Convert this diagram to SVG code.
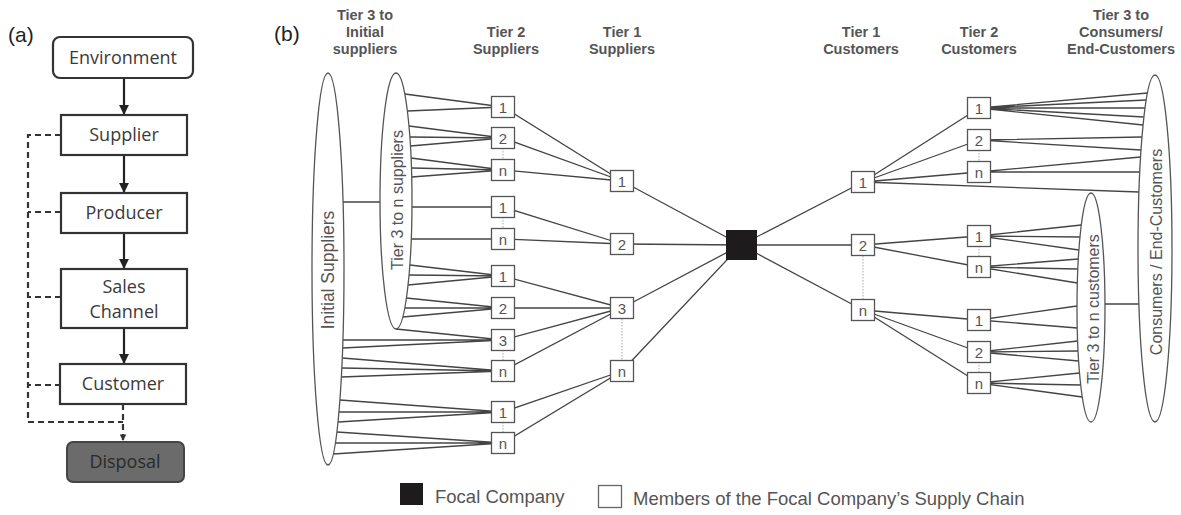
<svg xmlns="http://www.w3.org/2000/svg" width="1181" height="515" viewBox="0 0 1181 515">
<defs>
<marker id="arr" viewBox="0 0 10 10" refX="10" refY="5" markerWidth="4.5" markerHeight="4.5" orient="auto"><path d="M0,0 L10,5 L0,10 z" fill="#222"/></marker>
<marker id="arrs" viewBox="0 0 10 10" refX="10" refY="5" markerWidth="3" markerHeight="3" orient="auto"><path d="M0,0 L10,5 L0,10 z" fill="#333"/></marker>
<style>
.pa{fill:#fff;stroke:#333;stroke-width:2.2}
.ta{font-family:"Open Sans","Noto Sans",sans-serif;font-size:18px;fill:#3a3a3a;text-anchor:middle}
.lab{font-family:"Liberation Sans",Arial,sans-serif;font-size:21px;fill:#222}
.hd{font-family:"Liberation Sans",Arial,sans-serif;font-size:14.5px;font-weight:bold;fill:#555;text-anchor:middle}
.bx{fill:#fff;stroke:#555;stroke-width:1.3}
.num{font-family:"Liberation Sans",Arial,sans-serif;font-size:15px;fill:#555;text-anchor:middle}
.ov{fill:#fff;stroke:#555;stroke-width:1.3}
.rot{font-family:"Liberation Sans",Arial,sans-serif;font-size:16px;fill:#555;text-anchor:middle}
.e{stroke:#444;stroke-width:1.3;fill:none}
.dot{stroke:#aaa;stroke-width:1;stroke-dasharray:1.5 1.5;fill:none}
.sol{stroke:#222;stroke-width:2.2;fill:none}
.dsh{stroke:#333;stroke-width:2.2;stroke-dasharray:6 4;fill:none}
.lg{font-family:"Liberation Sans",Arial,sans-serif;font-size:18.5px;fill:#555}
</style>
</defs>

<!-- Panel (a) -->
<text class="lab" x="8" y="42">(a)</text>
<g id="a-connectors">
<line class="sol" x1="124" y1="78" x2="124" y2="115" marker-end="url(#arr)"/>
<line class="sol" x1="124" y1="155" x2="124" y2="193" marker-end="url(#arr)"/>
<line class="sol" x1="124" y1="233" x2="124" y2="269" marker-end="url(#arr)"/>
<line class="sol" x1="124" y1="328" x2="124" y2="364" marker-end="url(#arr)"/>
<path class="dsh" d="M61,135 H28 V422 H123"/>
<path class="dsh" d="M61,212 H28"/>
<path class="dsh" d="M61,297 H28"/>
<path class="dsh" d="M61,385 H28"/>
<path class="dsh" d="M123,404 V441" marker-end="url(#arrs)"/>
</g>
<g id="a-environment"><rect x="53" y="37" width="140" height="41" rx="7" class="pa"/><text class="ta" x="123" y="64">Environment</text></g>
<g id="a-supplier"><rect x="61" y="115" width="126" height="40" class="pa"/><text class="ta" x="124" y="141">Supplier</text></g>
<g id="a-producer"><rect x="61" y="193" width="126" height="40" class="pa"/><text class="ta" x="124" y="219">Producer</text></g>
<g id="a-sales"><rect x="61" y="269" width="126" height="59" class="pa"/><text class="ta" x="124" y="293">Sales</text><text class="ta" x="124" y="318">Channel</text></g>
<g id="a-customer"><rect x="60" y="364" width="126" height="40" class="pa"/><text class="ta" x="123" y="390">Customer</text></g>
<g id="a-disposal"><rect x="67" y="442" width="117" height="40" rx="6" fill="#6b6b6b" stroke="#444" stroke-width="2"/><text class="ta" x="125" y="468" style="fill:#2a2a2a">Disposal</text></g>

<!-- Panel (b) -->
<text class="lab" x="274" y="41">(b)</text>
<g id="headers">
<text class="hd" x="365" y="20">Tier 3 to</text><text class="hd" x="365" y="37">Initial</text><text class="hd" x="365" y="54">suppliers</text>
<text class="hd" x="506" y="37">Tier 2</text><text class="hd" x="506" y="54">Suppliers</text>
<text class="hd" x="622" y="37">Tier 1</text><text class="hd" x="622" y="54">Suppliers</text>
<text class="hd" x="861" y="37">Tier 1</text><text class="hd" x="861" y="54">Customers</text>
<text class="hd" x="979" y="37">Tier 2</text><text class="hd" x="979" y="54">Customers</text>
<text class="hd" x="1121" y="20">Tier 3 to</text><text class="hd" x="1121" y="37">Consumers/</text><text class="hd" x="1121" y="54">End-Customers</text>
</g>

<g id="connectors">
<line class="e" x1="343" y1="202" x2="381" y2="202"/>
<line class="e" x1="1104" y1="304" x2="1139" y2="304"/>
<path class="e" d="M404.8,94 L503,107 M407.4,111 L503,107
M409,126 L503,138 M409.9,137 L503,138 M410.4,146 L503,138
M411,158 L503,170 M411.5,168 L503,170 M411.7,177 L503,170
M412,207 L503,207 M411.3,239 L503,239
M409.9,265 L503,276 M409,275 L503,276 M408,285 L503,276
M406.4,298 L503,308 M404.8,308 L503,308 M402.8,317 L503,308
M396,329 L503,340 M342.9,340 L503,340 M342.6,348 L503,340
M342.3,358 L503,371 M341.8,368 L503,371 M341.3,377 L503,371
M339.9,400 L503,412 M338.9,412 L503,412 M338,422 L503,412
M336.9,432 L503,443 M335.4,443 L503,443 M333.3,454 L503,443"/>
<path class="e" d="M503,107 L622,181 M503,138 L622,181 M503,170 L622,181
M503,207 L622,244 M503,239 L622,244
M503,276 L622,308 M503,308 L622,308 M503,340 L622,308 M503,371 L622,308
M503,412 L622,371 M503,443 L622,371"/>
<path class="e" d="M622,181 L741,245 M622,244 L741,245 M622,308 L741,245 M622,371 L741,245"/>
<path class="e" d="M741,245 L863,182 M741,245 L863,245 M741,245 L863,310"/>
<path class="e" d="M863,182 L979,108 M863,182 L979,140 M863,182 L979,172 M863,182 L1139,192
M863,245 L979,236 M863,245 L979,267
M863,310 L979,320 M863,310 L979,352 M863,310 L979,383"/>
<path class="e" d="M979,108 L1147.5,93 M979,108 L1146.2,100 M979,108 L1145,108 M979,108 L1143.9,117 M979,108 L1143.1,125
M979,140 L1142,137 M979,140 L1141,150
M979,172 L1140.5,157 M979,172 L1139.7,172
M979,236 L1081.3,225 M979,236 L1080,237 M979,236 L1078.9,250
M979,267 L1078.3,259 M979,267 L1077.8,269 M979,267 L1077.3,283
M979,320 L1077,306 M979,320 L1077.2,328
M979,352 L1077.6,341 M979,352 L1078,351 M979,352 L1078.6,361
M979,383 L1079.5,373 M979,383 L1080.7,385 M979,383 L1082.3,397"/>
<path class="dot" d="M503,148 V160 M503,217 V229 M503,350 V361 M503,422 V433
M622,319 V361 M863,256 V299
M979,150 V162 M979,246 V257 M979,362 V373"/>
</g>

<g id="oval-initial"><ellipse class="ov" cx="328" cy="269" rx="16" ry="196"/><text class="rot" x="334" y="270" transform="rotate(-90 334 270)" style="font-size:17.5px">Initial Suppliers</text></g>
<g id="oval-tier3-suppliers"><ellipse class="ov" cx="396" cy="201" rx="16" ry="128"/><text class="rot" x="403" y="200" transform="rotate(-90 403 200)">Tier 3 to n suppliers</text></g>
<g id="oval-consumers"><ellipse class="ov" cx="1155" cy="248.5" rx="17" ry="173.5"/><text class="rot" x="1162" y="252" transform="rotate(-90 1162 252)">Consumers / End-Customers</text></g>
<g id="oval-tier3-customers"><ellipse class="ov" cx="1091" cy="307.5" rx="14" ry="114.5"/><text class="rot" x="1099" y="309" transform="rotate(-90 1099 309)">Tier 3 to n customers</text></g>

<g id="tier2-suppliers">
<g id="s2-1a"><rect class="bx" x="491.5" y="96.5" width="23" height="21"/><text class="num" x="503" y="112.5">1</text></g>
<g id="s2-2a"><rect class="bx" x="491.5" y="127.5" width="23" height="21"/><text class="num" x="503" y="143.5">2</text></g>
<g id="s2-na"><rect class="bx" x="491.5" y="159.5" width="23" height="21"/><text class="num" x="503" y="175.5">n</text></g>
<g id="s2-1b"><rect class="bx" x="491.5" y="196.5" width="23" height="21"/><text class="num" x="503" y="212.5">1</text></g>
<g id="s2-nb"><rect class="bx" x="491.5" y="228.5" width="23" height="21"/><text class="num" x="503" y="244.5">n</text></g>
<g id="s2-1c"><rect class="bx" x="491.5" y="265.5" width="23" height="21"/><text class="num" x="503" y="281.5">1</text></g>
<g id="s2-2c"><rect class="bx" x="491.5" y="297.5" width="23" height="21"/><text class="num" x="503" y="313.5">2</text></g>
<g id="s2-3c"><rect class="bx" x="491.5" y="329.5" width="23" height="21"/><text class="num" x="503" y="345.5">3</text></g>
<g id="s2-nc"><rect class="bx" x="491.5" y="360.5" width="23" height="21"/><text class="num" x="503" y="376.5">n</text></g>
<g id="s2-1d"><rect class="bx" x="491.5" y="401.5" width="23" height="21"/><text class="num" x="503" y="417.5">1</text></g>
<g id="s2-nd"><rect class="bx" x="491.5" y="432.5" width="23" height="21"/><text class="num" x="503" y="448.5">n</text></g>
</g>
<g id="tier1-suppliers">
<g id="s1-1"><rect class="bx" x="610.5" y="170.5" width="23" height="21"/><text class="num" x="622" y="186.5">1</text></g>
<g id="s1-2"><rect class="bx" x="610.5" y="233.5" width="23" height="21"/><text class="num" x="622" y="249.5">2</text></g>
<g id="s1-3"><rect class="bx" x="610.5" y="297.5" width="23" height="21"/><text class="num" x="622" y="313.5">3</text></g>
<g id="s1-n"><rect class="bx" x="610.5" y="360.5" width="23" height="21"/><text class="num" x="622" y="376.5">n</text></g>
</g>
<g id="focal"><rect x="726" y="230" width="31" height="30" fill="#1e1b1c"/></g>
<g id="tier1-customers">
<g id="c1-1"><rect class="bx" x="851.5" y="171.5" width="23" height="21"/><text class="num" x="863" y="187.5">1</text></g>
<g id="c1-2"><rect class="bx" x="851.5" y="234.5" width="23" height="21"/><text class="num" x="863" y="250.5">2</text></g>
<g id="c1-n"><rect class="bx" x="851.5" y="299.5" width="23" height="21"/><text class="num" x="863" y="315.5">n</text></g>
</g>
<g id="tier2-customers">
<g id="c2-1a"><rect class="bx" x="967.5" y="97.5" width="23" height="21"/><text class="num" x="979" y="113.5">1</text></g>
<g id="c2-2a"><rect class="bx" x="967.5" y="129.5" width="23" height="21"/><text class="num" x="979" y="145.5">2</text></g>
<g id="c2-na"><rect class="bx" x="967.5" y="161.5" width="23" height="21"/><text class="num" x="979" y="177.5">n</text></g>
<g id="c2-1b"><rect class="bx" x="967.5" y="225.5" width="23" height="21"/><text class="num" x="979" y="241.5">1</text></g>
<g id="c2-nb"><rect class="bx" x="967.5" y="256.5" width="23" height="21"/><text class="num" x="979" y="272.5">n</text></g>
<g id="c2-1c"><rect class="bx" x="967.5" y="309.5" width="23" height="21"/><text class="num" x="979" y="325.5">1</text></g>
<g id="c2-2c"><rect class="bx" x="967.5" y="341.5" width="23" height="21"/><text class="num" x="979" y="357.5">2</text></g>
<g id="c2-nc"><rect class="bx" x="967.5" y="372.5" width="23" height="21"/><text class="num" x="979" y="388.5">n</text></g>
</g>

<g id="legend">
<rect x="400" y="483" width="23" height="22" fill="#1e1b1c"/>
<text class="lg" x="435" y="503">Focal Company</text>
<rect x="598.5" y="485.5" width="23" height="22" fill="#fff" stroke="#666" stroke-width="1.3"/>
<text class="lg" x="633" y="505">Members of the Focal Company’s Supply Chain</text>
</g>
</svg>
